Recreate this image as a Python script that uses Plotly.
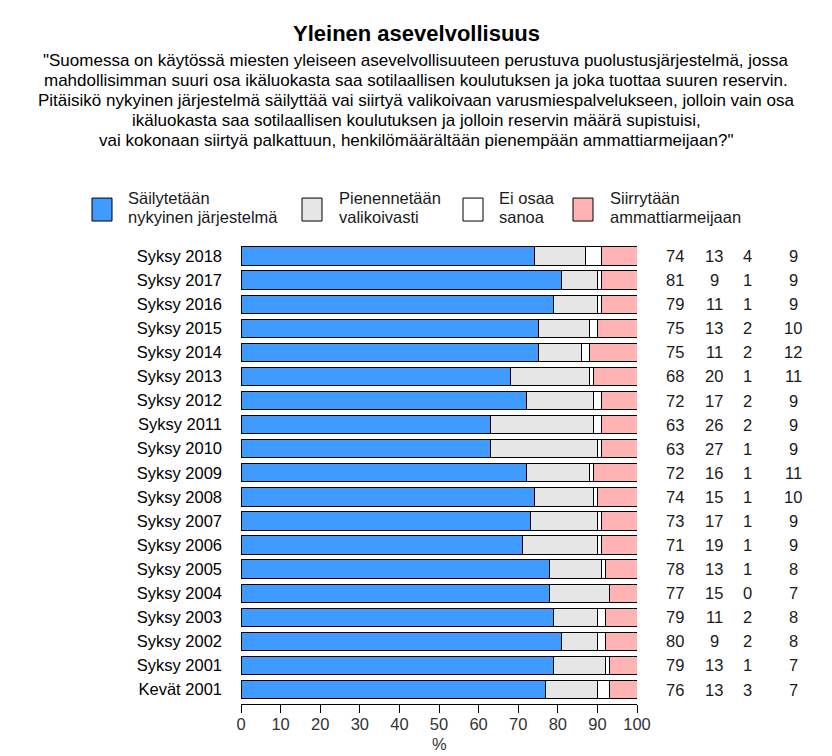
import plotly.graph_objects as go

categories = ["Syksy 2018", "Syksy 2017", "Syksy 2016", "Syksy 2015", "Syksy 2014",
              "Syksy 2013", "Syksy 2012", "Syksy 2011", "Syksy 2010", "Syksy 2009",
              "Syksy 2008", "Syksy 2007", "Syksy 2006", "Syksy 2005", "Syksy 2004",
              "Syksy 2003", "Syksy 2002", "Syksy 2001", "Kevät 2001"]
sailytetaan = [74, 81, 79, 75, 75, 68, 72, 63, 63, 72, 74, 73, 71, 78, 77, 79, 80, 79, 76]
pienennetaan = [13, 9, 11, 13, 11, 20, 17, 26, 27, 16, 15, 17, 19, 13, 15, 11, 9, 13, 13]
ei_osaa = [4, 1, 1, 2, 2, 1, 2, 2, 1, 1, 1, 1, 1, 1, 0, 2, 2, 1, 3]
siirrytaan = [9, 9, 9, 10, 12, 11, 9, 9, 9, 11, 10, 9, 9, 8, 7, 8, 8, 7, 7]

series_names = [["Säilytetään", "nykyinen järjestelmä"], ["Pienennetään", "valikoivasti"],
                ["Ei osaa", "sanoa"], ["Siirrytään", "ammattiarmeijaan"]]
series_vals = [sailytetaan, pienennetaan, ei_osaa, siirrytaan]
colors = ["#3f9bff", "#e6e6e6", "#ffffff", "#ffb3b3"]
x_ticks = list(range(0, 101, 10))
x_title = "%"

title = "Yleinen asevelvollisuus"
subtitle_lines = [
    '"Suomessa on käytössä miesten yleiseen asevelvollisuuteen perustuva puolustusjärjestelmä, jossa',
    'mahdollisimman suuri osa ikäluokasta saa sotilaallisen koulutuksen ja joka tuottaa suuren reservin.',
    'Pitäisikö nykyinen järjestelmä säilyttää vai siirtyä valikoivaan varusmiespalvelukseen, jolloin vain osa',
    'ikäluokasta saa sotilaallisen koulutuksen ja jolloin reservin määrä supistuisi,',
    'vai kokonaan siirtyä palkattuun, henkilömäärältään pienempään ammattiarmeijaan?"',
]

W, H = 832, 756
L, R = 241, 637
T, B = 244, 704.5
FONT = "Arial, Liberation Sans, sans-serif"

totals = [sum(v) for v in zip(*series_vals)]

fig = go.Figure()
for name, vals, col in zip(series_names, series_vals, colors):
    fig.add_trace(go.Bar(
        y=categories, x=[v / t * 100 for v, t in zip(vals, totals)],
        orientation="h", name=" ".join(name), width=0.76,
        marker=dict(color=col, line=dict(color="#000000", width=1)),
        showlegend=False, hoverinfo="skip"))

def px_x(px):
    return (px - L) / (R - L)

def px_y(py):
    return (B - py) / (B - T)

annotations = []
# value columns
col_px = [675, 714, 747, 793]
for cpx, vals in zip(col_px, series_vals):
    for cat, v in zip(categories, vals):
        annotations.append(dict(x=px_x(cpx), xref="paper", y=cat, yref="y",
                                text=str(v), showarrow=False, xanchor="center",
                                font=dict(family=FONT, size=16.5, color="#1a1a1a")))

# title and subtitle
annotations.append(dict(x=px_x(416), y=px_y(33), xref="paper", yref="paper", text="<b>" + title + "</b>",
                        showarrow=False, xanchor="center", yanchor="middle",
                        font=dict(family=FONT, size=22, color="#000000")))
for i, line in enumerate(subtitle_lines):
    annotations.append(dict(x=px_x(416), y=px_y(60 + 20 * i), xref="paper", yref="paper", text=line,
                            showarrow=False, xanchor="center", yanchor="middle",
                            font=dict(family=FONT, size=17, color="#000000")))

# x axis title
annotations.append(dict(x=0.5, y=px_y(745), xref="paper", yref="paper", text=x_title,
                        showarrow=False, xanchor="center", yanchor="middle",
                        font=dict(family=FONT, size=16.5, color="#333333")))

# legend (manual)
shapes = []
box_x = [92, 302, 463, 573]
text_x = [126, 337, 497, 608]
for bx, tx, name, col in zip(box_x, text_x, series_names, colors):
    shapes.append(dict(type="rect", xref="paper", yref="paper",
                       x0=px_x(bx), x1=px_x(bx + 20), y0=px_y(221), y1=px_y(198),
                       fillcolor=col, line=dict(color="#000000", width=1)))
    for j, part in enumerate(name):
        annotations.append(dict(x=px_x(tx), y=px_y(198 + 19 * j), xref="paper", yref="paper", text=part,
                                showarrow=False, xanchor="left", yanchor="middle", align="left",
                                font=dict(family=FONT, size=16.5, color="#1a1a1a")))

fig.update_layout(
    barmode="stack",
    width=W, height=H,
    margin=dict(l=L, r=W - R, t=T, b=H - B, pad=0, autoexpand=False),
    paper_bgcolor="white", plot_bgcolor="white",
    annotations=annotations, shapes=shapes,
    font=dict(family=FONT, size=16.5, color="#1a1a1a"),
    xaxis=dict(range=[0, 100], tickvals=x_ticks, ticks="outside", ticklen=8,
               tickcolor="#000000", showline=True, linecolor="#000000", linewidth=1,
               showgrid=False, zeroline=False, fixedrange=True, automargin=False,
               ticklabelstandoff=-3,
               tickfont=dict(family=FONT, size=16.5, color="#333333")),
    yaxis=dict(type="category", categoryorder="array", categoryarray=categories,
               range=[18.6, -0.5], showgrid=False, showline=False, zeroline=False, ticks="",
               ticklabelstandoff=18, fixedrange=True, automargin=False,
               tickfont=dict(family=FONT, size=16.5, color="#000000")),
)

fig.write_html("out.html", config={"displayModeBar": False},
               post_script="document.body.style.margin='0';document.body.style.overflow='hidden';")
